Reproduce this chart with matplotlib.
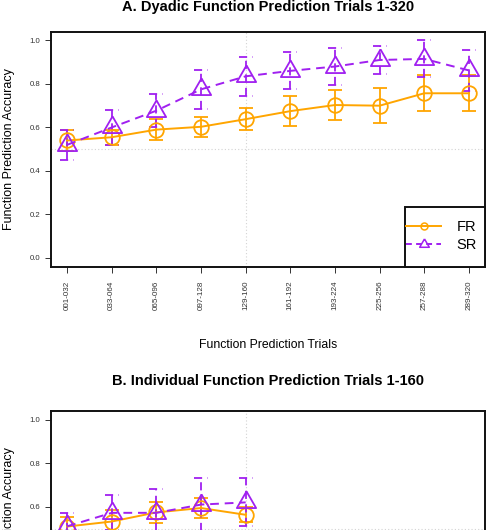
import matplotlib
matplotlib.use("Agg")
import matplotlib.pyplot as plt
from matplotlib.lines import Line2D
from matplotlib.patches import Rectangle

plt.rcParams['font.family'] = ['Liberation Sans', 'DejaVu Sans']

#-----------------------Data-----------------------#
trials = ["001-032", "033-064", "065-096", "097-128", "129-160",
          "161-192", "193-224", "225-256", "257-288", "289-320"]

# panel A (dyadic)
fr_a = [0.54, 0.555, 0.59, 0.603, 0.638, 0.675, 0.703, 0.70, 0.757, 0.757]
fr_a_err = [0.05, 0.035, 0.05, 0.046, 0.05, 0.07, 0.07, 0.08, 0.083, 0.083]
sr_a = [0.52, 0.60, 0.677, 0.775, 0.835, 0.86, 0.88, 0.91, 0.915, 0.862]
sr_a_err = [0.07, 0.08, 0.077, 0.09, 0.09, 0.085, 0.085, 0.064, 0.085, 0.093]

# panel B (individual)
fr_b = [0.509, 0.532, 0.574, 0.594, 0.563]
fr_b_err = [0.045, 0.055, 0.05, 0.046, 0.035]
sr_b = [0.51, 0.572, 0.572, 0.61, 0.62]
sr_b_err = [0.06, 0.08, 0.11, 0.12, 0.11]

orange = "#FFA500"
purple = "#A020F0"

# R-style pch=2 triangle (point sits below the middle of the triangle)
tri = [(0, 1.555), (1.3468, -0.7776), (-1.3468, -0.7776), (0, 1.555)]

W, H = 488, 530
fig = plt.figure(figsize=(W / 100, H / 100), dpi=100)


def px_axes(left, top, right, bottom):
    return fig.add_axes([left / W, 1 - bottom / H, (right - left) / W, (bottom - top) / H])


def errbars(ax, xs, ys, es, color, dashed):
    cap = 0.155
    kw = dict(color=color, lw=1.3, solid_capstyle="butt")
    if dashed:
        kw.update(linestyle=(0, (4.5, 3)))
    for x, y, e in zip(xs, ys, es):
        ax.plot([x, x], [y - e, y + e], **kw)
        ax.plot([x - cap, x + cap], [y + e, y + e], **kw)
        ax.plot([x - cap, x + cap], [y - e, y - e], **kw)


def panel(ax, fr, fr_err, sr, sr_err, xlabels=True):
    xs_fr = list(range(1, len(fr) + 1))
    xs_sr = list(range(1, len(sr) + 1))
    ax.axvline(5, color="#d3d3d3", lw=0.8, linestyle=(0, (1, 2)), zorder=0)
    ax.axhline(0.5, color="#d3d3d3", lw=0.8, linestyle=(0, (1, 2)), zorder=0)
    errbars(ax, xs_fr, fr, fr_err, orange, False)
    errbars(ax, xs_sr, sr, sr_err, purple, True)
    ax.plot(xs_fr, fr, color=orange, lw=1.4, marker="o", markersize=10.5,
            markerfacecolor="none", markeredgewidth=1.3)
    ax.plot(xs_sr, sr, color=purple, lw=1.4, linestyle=(0, (4.5, 3)), marker=tri,
            markersize=16, markerfacecolor="none", markeredgewidth=1.3)
    ax.set_xlim(0.64, 10.36)
    ax.set_ylim(-0.04, 1.04)
    ax.set_xticks(range(1, len(trials) + 1))
    if xlabels:
        ax.set_xticklabels(trials, rotation=90)
    else:
        ax.set_xticklabels([])
    ax.set_yticks([0.0, 0.2, 0.4, 0.6, 0.8, 1.0])
    ax.set_yticklabels(["0.0", "0.2", "0.4", "0.6", "0.8", "1.0"])
    ax.tick_params(axis="x", length=4.3, width=0.7, pad=5.5, labelsize=5.8, colors="#333333")
    ax.tick_params(axis="y", length=4.3, width=0.7, pad=3.2, labelsize=5.6, colors="#333333")
    for s in ax.spines.values():
        s.set_linewidth(1.4)
        s.set_color("#111111")


axA = px_axes(51, 31.7, 485, 266.7)
panel(axA, fr_a, fr_a_err, sr_a, sr_a_err)

# legend box (R style: tall box in the lower right corner)
box_x0 = (405 - 51) / 434
box_h = 60 / 235
axA.add_patch(Rectangle((box_x0, 0), 1 - box_x0, box_h, transform=axA.transAxes,
                        facecolor="white", edgecolor="#111111", lw=1.4, zorder=5,
                        clip_on=False))
handles = [
    Line2D([], [], color=orange, lw=1.4, marker="o", markersize=5,
           markerfacecolor="none", markeredgewidth=1.1),
    Line2D([], [], color=purple, lw=1.4, linestyle=(0, (3, 2.2)), marker=tri,
           markersize=8, markerfacecolor="none", markeredgewidth=1.1),
]
leg = axA.legend(handles, ["FR", "SR"], loc="center left",
                 bbox_to_anchor=(box_x0 + 1 / 434, box_h / 2 + 0.5 / 235),
                 borderaxespad=0, borderpad=0, frameon=False,
                 fontsize=10.5, handlelength=2.4, handletextpad=1.05,
                 labelspacing=0.3)
leg.set_zorder(6)

fig.text(268 / W, 1 - 7 / H, "A. Dyadic Function Prediction Trials 1-320",
         ha="center", va="center", fontsize=10.5, fontweight="bold")
fig.text(268 / W, 1 - 345 / H, "Function Prediction Trials",
         ha="center", va="center", fontsize=8.8)
fig.text(9 / W, 1 - 149 / H, "Function Prediction Accuracy",
         ha="center", va="center", rotation=90, fontsize=9)

axB = px_axes(51, 411, 485, 646)
panel(axB, fr_b, fr_b_err, sr_b, sr_b_err, xlabels=False)

fig.text(268 / W, 1 - 381 / H, "B. Individual Function Prediction Trials 1-160",
         ha="center", va="center", fontsize=10.5, fontweight="bold")
fig.text(9 / W, 1 - 528.5 / H, "Function Prediction Accuracy",
         ha="center", va="center", rotation=90, fontsize=9)

fig.savefig("out.png", dpi=100)
